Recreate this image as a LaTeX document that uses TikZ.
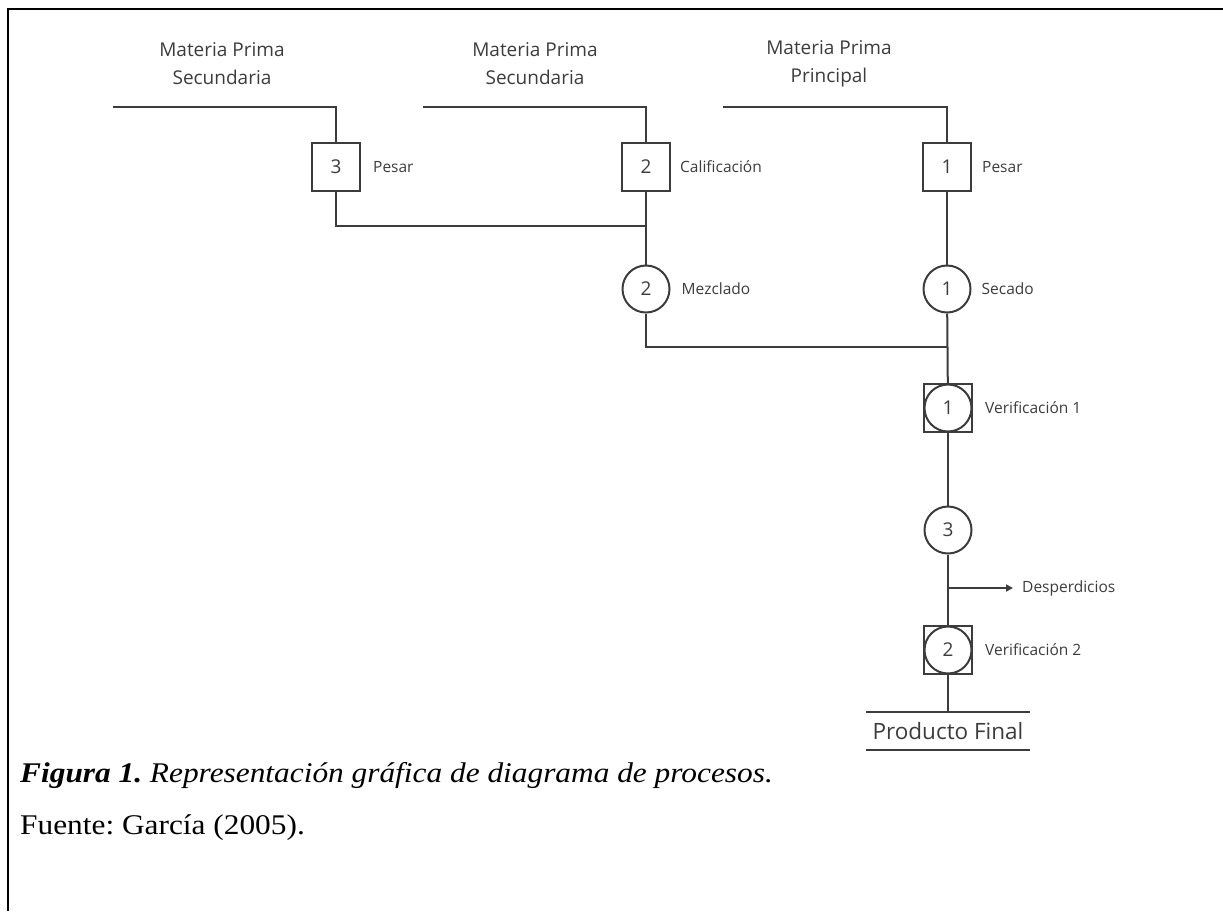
\documentclass[tikz,border=0pt]{standalone}
\usepackage{fontspec}
\setmainfont[FakeStretch=1.1]{Liberation Serif}
\newfontfamily\diafont{Open Sans}
\usetikzlibrary{positioning,arrows.meta}
\definecolor{ink}{HTML}{3C3C3C}
\frenchspacing
\tikzset{
	flow/.style={draw=ink, line width=2pt},
	opbox/.style={draw=ink, line width=2pt, rectangle, minimum size=48pt, inner sep=0pt, font=\diafont\fontsize{19}{19}\selectfont, text=ink},
	opcirc/.style={draw=ink, line width=2pt, circle, minimum size=47pt, inner sep=0pt, font=\diafont\fontsize{19}{19}\selectfont, text=ink},
	lbl/.style={inner sep=0pt, font=\diafont\fontsize{15.5}{15.5}\selectfont, text=ink},
	src/.style={inner sep=0pt, align=center, font=\diafont\fontsize{19}{28}\selectfont, text=ink}
}
\begin{document}
\begin{tikzpicture}[x=1pt, y=-1pt]
	\useasboundingbox (0,0) rectangle (1223,911);
	\draw[line width=2.5pt] (8,911)--(8,9)--(1223,9);
%	materia prima
	\node[src] (mp3) at (222,64) {Materia Prima\\Secundaria};
	\node[src] (mp2) at (535,64) {Materia Prima\\Secundaria};
	\node[src] (mp1) at (829,64) {Materia Prima\\Principal};
	\coordinate (e3) at (113,107);
	\coordinate (e2) at (423,107);
	\coordinate (e1) at (723,107);
%	operaciones
	\node[opbox] (op3) at (336,167) {3};
	\node[opbox] (op2) at (646,167) {2};
	\node[opbox] (op1) at (947,167) {1};
	\node[opcirc] (mez) at (646,289) {2};
	\node[opcirc] (sec) at (947,289) {1};
	\node[opbox] (v1box) at (948,408) {};
	\node[opcirc] (v1) at (948,408) {1};
	\node[opcirc] (op4) at (948,530) {3};
	\node[opbox] (v2box) at (948,650) {};
	\node[opcirc] (v2) at (948,650) {2};
	\node[inner sep=0pt, minimum width=163pt, minimum height=37pt, font=\diafont\fontsize{22.5}{22.5}\selectfont, text=ink] (pf) at (948,731) {Producto Final};
	\draw[flow] (pf.north west)--(pf.north east);
	\draw[flow] (pf.south west)--(pf.south east);
%	etiquetas
	\node[lbl, anchor=west, right=12pt of op3] (t3) {Pesar};
	\node[lbl, anchor=west, right=9pt of op2] (t2) {Calificación};
	\node[lbl, anchor=west, right=10pt of op1] (t1) {Pesar};
	\node[lbl, anchor=west, right=11pt of mez] (tm) {Mezclado};
	\node[lbl, anchor=west, right=10pt of sec] (ts) {Secado};
	\node[lbl, anchor=west, right=12pt of v1box] (tv1) {Verificación 1};
	\node[lbl, anchor=west, right=12pt of v2box] (tv2) {Verificación 2};
	\node[lbl, anchor=west] (desp) at (1022,588) {Desperdicios};
%	lineas
	\coordinate (j1) at (646,226);
	\coordinate (j2) at (948,347);
	\coordinate (j3) at (948,588);
	\draw[flow] (e3) -| (op3.north);
	\draw[flow] (e2) -| (op2.north);
	\draw[flow] (e1) -| (op1.north);
	\draw[flow] (op3.south) |- (j1);
	\draw[flow] (op2) -- (mez);
	\draw[flow] (op1) -- (sec);
	\draw[flow] (mez.south) |- (j2);
	\draw[flow] (sec) -- (v1box);
	\draw[flow] (v1box) -- (op4);
	\draw[flow] (op4) -- (v2box);
	\draw[flow] (v2box) -- (pf.north);
	\draw[flow, -{Triangle[length=7pt, width=7pt]}] (j3) -- ([xshift=-9pt]desp.west);
%	pie
	\node[anchor=west, inner sep=0pt, font=\fontsize{28.5}{28.5}\selectfont] (cap) at (20,775) {\textbf{\textit{Figura 1.}} \textit{Representación gráfica de diagrama de procesos.}};
	\node[anchor=west, inner sep=0pt, font=\fontsize{28.5}{28.5}\selectfont] (src) at (20,828) {Fuente: García (2005).};
\end{tikzpicture}
\end{document}
